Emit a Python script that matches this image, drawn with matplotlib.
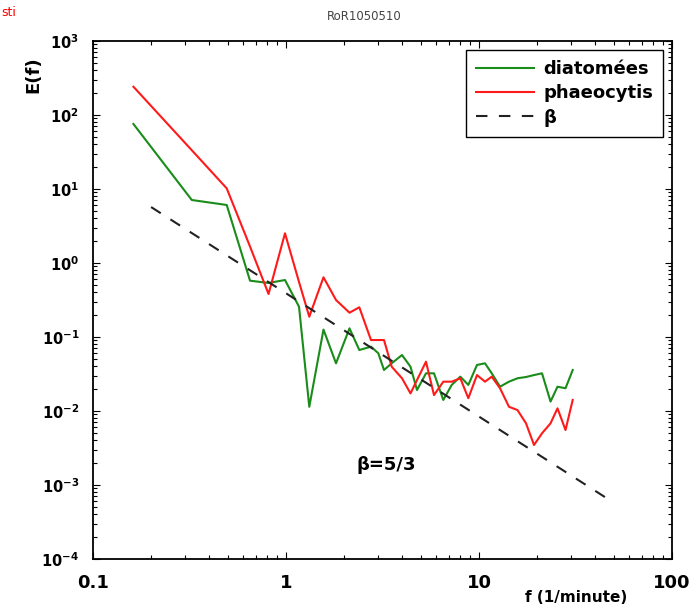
import numpy as np
import matplotlib
matplotlib.use("Agg")
import matplotlib.pyplot as plt
from matplotlib.ticker import FuncFormatter, NullFormatter, LogLocator, FixedLocator

# frequencies (1/minute) shared by both spectra
freq = [0.162, 0.325, 0.493, 0.651, 0.812, 0.988, 1.168, 1.32, 1.564, 1.816,
        2.133, 2.398, 2.756, 3.008, 3.219, 3.529, 3.99, 4.416, 4.773, 5.313,
        5.846, 6.531, 7.222, 8.0, 8.805, 9.763, 10.74, 11.64, 12.85, 14.30,
        15.83, 17.52, 19.28, 21.21, 23.48, 25.51, 28.07, 30.59]

diatomees = [75.6, 7.10, 6.08, 0.577, 0.537, 0.589, 0.257, 0.0114, 0.126, 0.0441,
             0.131, 0.0667, 0.074, 0.0603, 0.0358, 0.0441, 0.0571, 0.0397, 0.0192, 0.0323,
             0.0323, 0.0141, 0.0225, 0.0291, 0.0225, 0.0419, 0.0441, 0.0323, 0.0213, 0.0249,
             0.0277, 0.0288, 0.0306, 0.0323, 0.0134, 0.0213, 0.0203, 0.0358]

phaeocytis = [241, 33.4, 10.2, 1.67, 0.381, 2.52, 0.554, 0.188, 0.641, 0.316,
              0.213, 0.252, 0.091, 0.091, 0.091, 0.0397, 0.0277, 0.0173, 0.0262, 0.0464,
              0.0164, 0.0249, 0.0249, 0.0277, 0.0149, 0.0306, 0.0249, 0.0291, 0.0203, 0.0114,
              0.0103, 0.00682, 0.00347, 0.0050, 0.00682, 0.01087, 0.00553, 0.0141]

# reference slope E = C f^-beta
beta = 5.0 / 3.0
beta_coef = 0.39
beta_range = [0.2, 50]

xticks = [0.1, 1, 10, 100]
yticks = [1e-4, 1e-3, 1e-2, 1e-1, 1, 10, 100, 1000]

plt.rcParams["font.family"] = "DejaVu Sans"
plt.rcParams["font.weight"] = "bold"
plt.rcParams["mathtext.default"] = "regular"

W, H = 696, 609
fig = plt.figure(figsize=(W / 100, H / 100), dpi=100)
ax = fig.add_axes([93 / W, 1 - 559 / H, (672 - 93) / W, (559 - 41) / H])

ax.plot(freq, diatomees, color="#1a8c1a", lw=1.5, label="diatomées")
ax.plot(freq, phaeocytis, color="#ff1a1a", lw=1.5, label="phaeocytis")
fb = np.array(beta_range)
ax.plot(fb, beta_coef * fb ** (-beta), color="#222222", lw=1.5,
        linestyle=(0, (5.5, 5.5)), label="β")

ax.set_xscale("log")
ax.set_yscale("log")
ax.set_xlim(0.1, 100)
ax.set_ylim(1e-4, 1e3)

ax.xaxis.set_major_locator(FixedLocator(xticks))
ax.xaxis.set_major_formatter(FuncFormatter(lambda v, _: f"{v:g}"))
ax.xaxis.set_minor_formatter(NullFormatter())
ax.yaxis.set_major_locator(FixedLocator(yticks))
ax.yaxis.set_minor_locator(LogLocator(base=10, subs=np.arange(2, 10), numticks=20))
ax.yaxis.set_minor_formatter(NullFormatter())

ax.tick_params(which="both", direction="in", top=True, right=True, width=0.8)
ax.tick_params(which="major", length=5)
ax.tick_params(which="minor", length=3)
ax.tick_params(axis="x", pad=11, labelsize=13)
ax.tick_params(axis="y", pad=10, labelsize=10.5)
for s in ax.spines.values():
    s.set_linewidth(1.3)

leg = ax.legend(loc="upper right", bbox_to_anchor=(663 / W, 1 - 50 / H),
                bbox_transform=fig.transFigure, fontsize=13, frameon=True,
                fancybox=False, framealpha=1, edgecolor="black",
                handlelength=3.2, handletextpad=0.5, labelspacing=0.35,
                borderpad=0.55, borderaxespad=0)
leg.get_frame().set_linewidth(1.0)

fig.text(364 / W, 1 - 16 / H, "RoR1050510", ha="center", va="center",
         fontsize=8.5, fontweight="normal", color="#444444")
fig.text(1 / W, 1 - 12 / H, "sti", ha="left", va="center",
         fontsize=9, fontweight="normal", color="red")
fig.text(33 / W, 1 - 75 / H, "E(f)", ha="center", va="center",
         rotation=90, fontsize=13)
fig.text(576 / W, 1 - 597 / H, "f (1/minute)", ha="center", va="center",
         fontsize=11)
ax.text(386 / W, 1 - 465 / H, "β=5/3", transform=fig.transFigure,
        ha="center", va="center", fontsize=13)

fig.savefig("out.png", dpi=100)
